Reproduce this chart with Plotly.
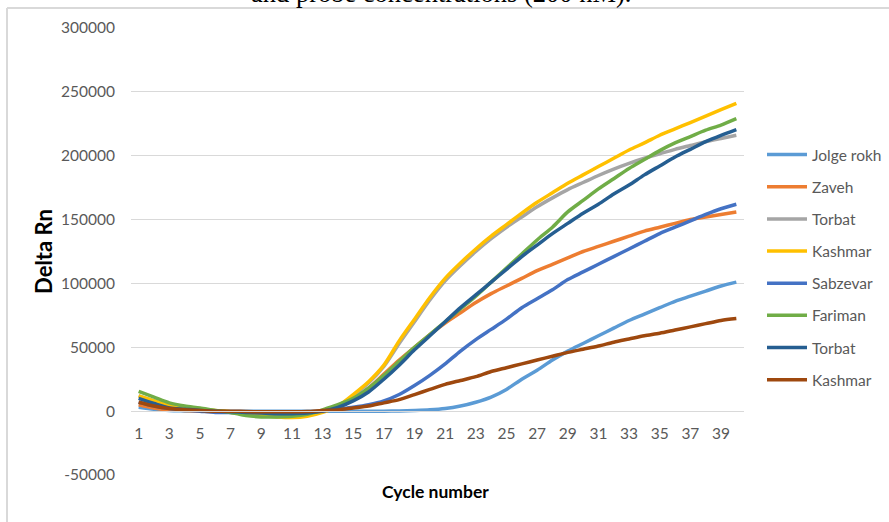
import plotly.graph_objects as go

cycles = list(range(1, 41))

jolge_rokh = [3000, 1500, 500, 200, 0, 0, 0, 0, 0, 0, 0, 0, 0, 0, 0, 0, 0, 200, 500, 1000,
              2000, 4000, 7000, 11000, 17000, 25000, 32000, 40000, 47000, 53000,
              59000, 65000, 71000, 76000, 81000, 86000, 90000, 94000, 98000, 101000]
zaveh = [5000, 2500, 1000, 500, 0, -500, -500, -800, -1000, -1000, -1000, -800, 0, 3000, 9000,
         18000, 29000, 40000, 50000, 60000, 69000, 77000, 85000, 92000, 98000, 104000,
         110000, 115000, 120000, 125000, 129000, 133000, 137000, 141000, 144000, 147000,
         150000, 152000, 154000, 156000]
torbat_gray = [12000, 8000, 4000, 2500, 1000, 0, -1000, -2500, -3500, -4000, -4000, -3000, 0,
               4000, 12000, 22000, 35000, 53000, 70000, 87000, 102000, 114000, 125000, 135000,
               144000, 152000, 160000, 167000, 173500, 179000, 184500, 189500, 194000, 198000,
               201500, 205000, 208000, 211000, 213500, 216000]
kashmar_yellow = [12000, 8000, 4000, 2500, 1500, 500, -500, -2000, -3500, -4500, -5000, -4000,
                  -1000, 4000, 13000, 23000, 36000, 55000, 72000, 89000, 104000, 116000, 127000,
                  137000, 146000, 155000, 163500, 171000, 178500, 185000, 191500, 198000, 204500,
                  210000, 216000, 221000, 226000, 231000, 236000, 241000]
sabzevar = [7000, 4000, 2000, 1000, 0, -1000, -1000, -1000, -1000, -1000, -1000, -800, 0, 1500,
            3000, 5000, 8000, 13000, 20000, 28000, 37000, 47000, 56000, 64000, 72000, 81000,
            88000, 95000, 103000, 109000, 115000, 121000, 127000, 133000, 139000, 144000,
            149000, 154000, 158500, 162000]
fariman = [15500, 11000, 6500, 4000, 2500, 500, -1000, -3500, -4500, -4500, -4000, -2500, 1000,
           5000, 10000, 18000, 28000, 39000, 50000, 60000, 70000, 80000, 90000, 101000, 112000,
           123000, 134000, 144000, 156000, 165000, 174000, 182000, 190000, 197000, 204000,
           210000, 215000, 220000, 224000, 229000]
torbat_dark = [10000, 6000, 2500, 1500, 500, 0, -500, -1000, -1500, -2000, -2000, -1500, 0, 3000,
               8000, 15000, 25000, 36000, 48000, 59000, 70000, 81000, 91000, 101000, 111000,
               121000, 130000, 139000, 147000, 155000, 162000, 170000, 177000, 185000, 192000,
               199000, 205000, 211000, 216000, 220500]
kashmar_brown = [7000, 4000, 2000, 1000, 500, 0, 0, -300, -500, -500, -500, -300, 500, 1000,
                 2500, 4000, 6500, 9000, 13000, 17000, 21000, 24000, 27000, 31000, 34000, 37000,
                 40000, 43000, 46000, 48500, 51000, 54000, 56500, 59000, 61000, 63500, 66000,
                 68500, 71000, 72500]

series_names = ["Jolge rokh", "Zaveh", "Torbat", "Kashmar", "Sabzevar", "Fariman", "Torbat", "Kashmar"]
series_values = [jolge_rokh, zaveh, torbat_gray, kashmar_yellow, sabzevar, fariman, torbat_dark, kashmar_brown]
series_colors = ["#5B9BD5", "#ED7D31", "#A5A5A5", "#FFC000", "#4472C4", "#70AD47", "#255E91", "#9E480E"]

x_tick_vals = list(range(1, 40, 2))
y_tick_vals = list(range(-50000, 300001, 50000))

W, H = 889, 522
ML, MR, MT, MB = 131, 145, 28, 47

fig = go.Figure()
for i, (name, vals, col) in enumerate(zip(series_names, series_values, series_colors)):
    fig.add_trace(go.Scatter(
        x=cycles, y=vals, mode="lines", name=name,
        line=dict(color=col, width=3.5, shape="spline", smoothing=0.8),
        legendgroup=f"g{i}",
    ))

ymin, ymax = -50000, 300000
fig.update_layout(
    width=W, height=H,
    margin=dict(l=ML, r=MR, t=MT, b=MB, autoexpand=False),
    paper_bgcolor="white", plot_bgcolor="white",
    font=dict(family="Lato, 'Open Sans', sans-serif", size=15, color="#595959"),
    xaxis=dict(
        range=[0.5, 40.5], tickmode="array", tickvals=x_tick_vals,
        ticktext=[str(v) for v in x_tick_vals],
        showgrid=False, zeroline=False,
        showline=True, linecolor="#d9d9d9", linewidth=1.3,
        anchor="free", position=(0 - ymin) / (ymax - ymin),
        ticks="", ticklabelstandoff=8,
        tickfont=dict(size=15.5, color="#595959"),
    ),
    yaxis=dict(
        range=[ymin, ymax], tickmode="array", tickvals=y_tick_vals,
        ticktext=[str(v) for v in y_tick_vals],
        showgrid=True, gridcolor="#d9d9d9", gridwidth=1.3,
        zeroline=False, showline=False, ticks="", ticklabelstandoff=15,
        tickfont=dict(size=15.5, color="#595959"),
        title=dict(text="<b>Delta Rn</b>", font=dict(size=22, color="#000000"), standoff=2),
    ),
    legend=dict(
        xref="container", yref="container",
        x=762 / W, y=1 - 138 / H, xanchor="left", yanchor="top",
        font=dict(size=15.5, color="#595959"),
        tracegroupgap=9, itemwidth=40, maxheight=480,
        bgcolor="rgba(0,0,0,0)",
    ),
    showlegend=True,
)

pw = W - ML - MR
ph = H - MT - MB
def px_x(x):
    return (x - ML) / pw
def px_y(y):
    return (H - MB - y) / ph

fig.add_annotation(
    text="<b>Cycle number</b>", xref="paper", yref="paper",
    x=px_x(435), y=px_y(492), xanchor="center", yanchor="middle", showarrow=False,
    font=dict(size=17.5, color="#000000"),
)
fig.add_annotation(
    text="and probe concentrations (200 nM).", xref="paper", yref="paper",
    x=px_x(441), y=px_y(10), xanchor="center", yanchor="bottom", showarrow=False,
    font=dict(family="'Liberation Serif', 'DejaVu Serif', serif", size=26.5, color="#000000"),
)
# outer frame of the embedded chart
fig.add_shape(type="line", xref="paper", yref="paper",
              x0=px_x(7), x1=px_x(7), y0=px_y(8), y1=px_y(H + 5),
              line=dict(color="#d9d9d9", width=2))
fig.add_shape(type="line", xref="paper", yref="paper",
              x0=px_x(7), x1=px_x(W + 5), y0=px_y(8), y1=px_y(8),
              line=dict(color="#d9d9d9", width=2))

fig.write_html(
    "out.html",
    config={"displayModeBar": False},
    post_script="document.body.style.margin='0';document.documentElement.style.overflow='hidden';",
)
